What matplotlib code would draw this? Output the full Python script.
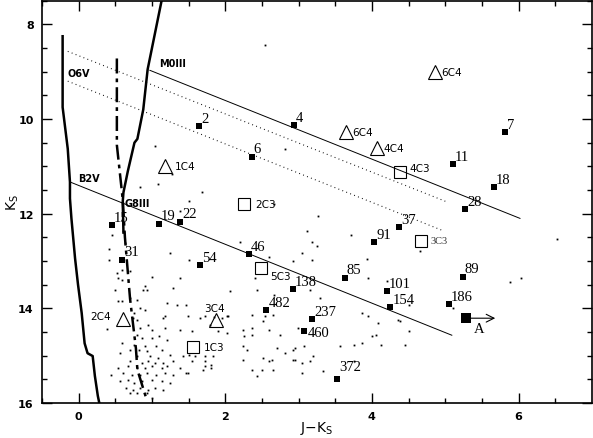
import matplotlib.pyplot as plt

# field stars: J-Ks colour and Ks magnitude
dot_x = [0.46, 0.60, 0.41, 0.63, 1.24, 0.41, 0.59, 0.70, 0.53, 0.59, 1.00, 1.38, 0.90, 0.49, 0.87,
         0.93, 1.28, 0.53, 0.59, 0.70, 0.80, 1.20, 1.34, 1.47, 0.83, 0.90, 0.76, 1.17, 1.49,
         0.74, 0.80, 0.38, 0.83, 0.94, 1.00, 1.15, 1.17, 1.38, 0.79, 0.86, 1.00, 1.10, 1.21,
         0.59, 0.76, 0.90, 1.06, 0.70, 0.82, 0.93, 1.13, 0.56, 0.79, 0.97, 1.08, 1.24, 1.42,
         0.70, 0.86, 0.94, 1.04, 1.15, 1.28, 0.67, 0.80, 0.90, 1.00, 1.13, 1.21, 1.38, 0.44,
         0.60, 0.72, 0.83, 0.93, 1.06, 1.17, 1.28, 1.47, 0.56, 0.67, 0.76, 0.86, 1.00, 1.13,
         1.24, 0.65, 0.74, 0.83, 0.94, 1.04, 1.15, 0.70, 0.80, 0.93, 1.00, 0.52, 0.53,
         1.51, 2.20, 2.60, 2.92, 2.41, 2.06, 2.43, 2.67, 2.37, 2.65, 1.72, 1.85, 2.02,
         1.65, 1.79, 1.95, 2.03, 1.55, 1.90, 2.02, 2.54, 2.51, 2.24, 2.36, 2.26, 2.36, 2.60,
         2.74, 2.24, 2.30, 2.71, 2.81, 2.92, 1.51, 1.58, 1.72, 1.83, 1.55, 1.72, 1.81, 1.72,
         1.81, 2.24, 2.51, 2.60, 2.63, 2.92, 1.69, 2.37, 2.50, 2.65, 1.49, 2.43,
         3.12, 3.72, 3.18, 3.25, 3.05, 3.18, 3.93, 3.94, 3.29, 3.16, 4.20, 3.26, 3.86, 4.51,
         2.99, 4.08, 4.00, 4.06, 3.87, 3.76, 3.56, 4.13, 2.95, 3.08, 3.19, 2.95, 3.05, 3.15,
         3.76, 3.05, 3.33, 3.94, 4.35,
         4.65, 6.52, 6.04, 5.88, 4.38, 4.51, 4.45, 5.10,
         1.04, 1.27, 0.83, 1.08, 1.68, 1.51, 1.38, 2.81, 2.67, 2.54]
dot_k = [12.46, 12.36, 12.74, 12.63, 12.84, 12.99, 13.20, 13.22, 13.37, 13.41, 13.33, 13.37, 13.52, 13.62, 13.62,
         13.62, 13.58, 13.85, 13.85, 13.79, 13.83, 13.89, 13.94, 13.94, 14.00, 14.04, 14.10, 14.17, 14.17,
         14.21, 14.25, 14.44, 14.42, 14.36, 14.46, 14.21, 14.42, 14.46, 14.57, 14.63, 14.63, 14.59, 14.67,
         14.74, 14.78, 14.80, 14.80, 14.88, 14.88, 14.91, 14.88, 14.95, 15.01, 15.01, 15.05, 14.99, 15.01,
         15.12, 15.16, 15.12, 15.16, 15.16, 15.12, 15.22, 15.26, 15.26, 15.22, 15.26, 15.22, 15.26, 15.41,
         15.37, 15.41, 15.41, 15.37, 15.41, 15.37, 15.41, 15.37, 15.54, 15.52, 15.58, 15.54, 15.52, 15.54,
         15.58, 15.68, 15.73, 15.68, 15.73, 15.68, 15.73, 15.79, 15.79, 15.79, 15.89, 13.26, 15.26,
         12.99, 12.59, 12.91, 13.01, 13.35, 13.64, 13.62, 13.73, 14.15, 14.15, 14.17, 14.19, 14.17,
         14.21, 14.36, 14.21, 14.17, 14.48, 14.48, 14.53, 14.17, 14.27, 14.46, 14.42, 14.59, 14.57, 14.46,
         14.57, 14.80, 14.88, 14.84, 14.95, 14.88, 14.99, 15.01, 15.01, 15.01, 15.12, 15.12, 15.20, 15.22,
         15.26, 15.09, 15.05, 15.12, 15.09, 15.09, 15.31, 15.31, 15.31, 15.31, 15.37, 15.43,
         12.36, 12.46, 12.59, 12.69, 12.84, 12.99, 12.95, 13.37, 13.79, 13.62, 13.43, 12.04, 14.11, 13.94,
         14.42, 14.32, 14.59, 14.57, 14.74, 14.78, 14.80, 14.78, 14.84, 14.80, 15.01, 15.09, 15.16, 15.12,
         15.12, 15.37, 15.33, 14.17, 14.25,
         12.78, 12.53, 13.35, 13.45, 14.27, 14.48, 14.78, 14.00,
         10.57, 11.16, 11.43, 11.37, 11.54, 11.73, 11.94, 10.63, 11.79, 8.44]

# numbered stars
star_ids = ["2", "4", "6", "7", "11", "18", "28", "15", "19", "22", "31", "54", "46", "138",
            "482", "37", "91", "85", "101", "154", "237", "460", "372", "89", "186"]
star_x = [1.64, 2.93, 2.36, 5.82, 5.10, 5.66, 5.27, 0.45, 1.09, 1.38, 0.59, 1.66, 2.32, 2.92,
          2.56, 4.37, 4.03, 3.63, 4.20, 4.25, 3.18, 3.08, 3.52, 5.24, 5.05]
star_k = [10.15, 10.13, 10.80, 10.28, 10.95, 11.44, 11.91, 12.25, 12.21, 12.17, 12.97, 13.09, 12.86, 13.60,
          14.04, 12.28, 12.60, 13.35, 13.64, 13.98, 14.23, 14.49, 15.49, 13.33, 13.92]

# source A (lower limit in colour)
a_x = 5.29
a_k = 14.21
a_x_end = 5.72

# candidates: triangles and open squares
tri_ids = ["6C4", "6C4", "4C4", "1C4", "2C4", "3C4"]
tri_x = [4.86, 3.65, 4.07, 1.18, 0.61, 1.87]
tri_k = [9.00, 10.28, 10.62, 11.00, 14.23, 14.25]
sq_ids = ["4C3", "2C3", "5C3", "1C3", "3C3"]
sq_x = [4.38, 2.25, 2.49, 1.56, 4.67]
sq_k = [11.13, 11.79, 13.14, 14.82, 12.57]

# main sequence, giant branch and dwarf track
ms_x = [-0.22, -0.22, -0.15, -0.12, -0.12, -0.10, -0.05, -0.01, 0.04, 0.08, 0.12, 0.19, 0.22, 0.26, 0.28]
ms_k = [8.25, 9.75, 10.63, 11.33, 11.68, 12.10, 12.95, 13.50, 14.10, 14.74, 14.95, 15.01, 15.43, 15.85, 16.0]
gb_x = [1.13, 0.94, 0.88, 0.80, 0.76, 0.67, 0.61, 0.60, 0.61]
gb_k = [7.50, 8.95, 9.80, 10.42, 10.50, 11.10, 11.55, 11.75, 12.40]
dw_x = [0.52, 0.52, 0.60, 0.63, 0.70, 0.78, 0.80, 0.93]
dw_k = [8.72, 10.55, 11.70, 12.50, 13.80, 14.85, 15.30, 15.95]

# reddening vectors
m0_x = [0.97, 6.02]
m0_k = [8.97, 12.10]
b2_x = [-0.12, 5.09]
b2_k = [11.33, 14.57]
o6a_x = [-0.15, 5.02]
o6a_k = [8.57, 11.75]
o6b_x = [-0.15, 4.97]
o6b_k = [9.20, 12.36]

fig = plt.figure(figsize=(5.93, 4.39), dpi=100)
ax = fig.add_axes([0.071, 0.080, 0.927, 0.916])

ax.plot(ms_x, ms_k, color="black", lw=1.8)
ax.plot(gb_x, gb_k, color="black", lw=1.8)
ax.plot(dw_x, dw_k, color="black", lw=1.8, dashes=(6, 2, 1.5, 2))
ax.plot(m0_x, m0_k, color="black", lw=0.7)
ax.plot(b2_x, b2_k, color="black", lw=0.7)
ax.plot(o6a_x, o6a_k, color="black", lw=0.8, dashes=(0.8, 3))
ax.plot(o6b_x, o6b_k, color="black", lw=0.8, dashes=(0.8, 3))

ax.plot(dot_x, dot_k, "s", color="black", ms=1.3, mew=0)
ax.plot(star_x, star_k, "s", color="black", ms=3.8, mew=0)
ax.plot(a_x, a_k, "s", color="black", ms=6.5, mew=0)
ax.annotate("", xy=(a_x_end, a_k), xytext=(a_x, a_k),
            arrowprops=dict(arrowstyle="->", lw=0.8, color="black", mutation_scale=14))
ax.plot(tri_x, tri_k, "^", mfc="none", mec="black", ms=10, mew=0.8)
ax.plot(sq_x, sq_k, "s", mfc="none", mec="black", ms=9, mew=0.8)

num_font = dict(family="Liberation Serif", fontsize=10.5)
special = {"460": (2.5, -0.5, "center"), "372": (1.5, 4.5, "bottom")}
for sid, x, k in zip(star_ids, star_x, star_k):
    dx, dy, va = special.get(sid, (1.5, 1.0, "bottom"))
    ax.annotate(sid, (x, k), xytext=(dx, dy), textcoords="offset points",
                ha="left", va=va, **num_font)
ax.annotate("A", (a_x, a_k), xytext=(5, -3), textcoords="offset points",
            ha="left", va="top", **num_font)

c_font = dict(family="DejaVu Sans", fontsize=7.5)
tri_off = [(4.3, 0, "left", "center"), (4.5, 0, "left", "center"), (4.5, 0, "left", "center"),
           (7, 0, "left", "center"), (-9, 2.5, "right", "center"), (-1, 5, "center", "bottom")]
for cid, x, k, (dx, dy, ha, va) in zip(tri_ids, tri_x, tri_k, tri_off):
    ax.annotate(cid, (x, k), xytext=(dx, dy), textcoords="offset points", ha=ha, va=va, **c_font)
sq_off = [(7, 3.5), (8, 0), (6.5, -6), (8, 0), (6.5, 0)]
for cid, x, k, (dx, dy) in zip(sq_ids, sq_x, sq_k, sq_off):
    if cid == "3C3":
        font = dict(family="Liberation Serif", fontsize=7.5, color="#333333")
    else:
        font = c_font
    ax.annotate(cid, (x, k), xytext=(dx, dy), textcoords="offset points",
                ha="left", va="center", **font)

lab_font = dict(family="DejaVu Sans", fontsize=7, fontweight="bold")
ax.text(-0.15, 9.09, "O6V", ha="left", va="baseline", **lab_font)
ax.text(1.10, 8.88, "M0III", ha="left", va="baseline", **lab_font)
ax.text(-0.01, 11.30, "B2V", ha="left", va="baseline", **lab_font)
ax.text(0.63, 11.83, "G8III", ha="left", va="baseline", **lab_font)

ax.set_xlim(-0.5, 7)
ax.set_ylim(16, 7.5)
ax.set_xticks([0, 2, 4, 6])
ax.set_xticks([x * 0.5 for x in range(-1, 14)], minor=True)
ax.set_yticks([8, 10, 12, 14, 16])
ax.set_yticks([7.5 + 0.5 * i for i in range(18)], minor=True)
ax.tick_params(which="both", direction="in", top=True, right=True, width=1.0)
ax.tick_params(which="major", length=7, labelsize=8, pad=6)
ax.tick_params(which="minor", length=3.5)
for lab in ax.get_xticklabels() + ax.get_yticklabels():
    lab.set_fontweight("bold")
for sp in ax.spines.values():
    sp.set_linewidth(1.2)

ax.set_xlabel(r"J$-$K$_{\rm S}$", fontsize=10)
ax.set_ylabel(r"K$_{\rm S}$", fontsize=10)
ax.xaxis.set_label_coords(0.5, -0.04)
ax.yaxis.set_label_coords(-0.038, 0.5)

fig.savefig("out.png", dpi=100)
